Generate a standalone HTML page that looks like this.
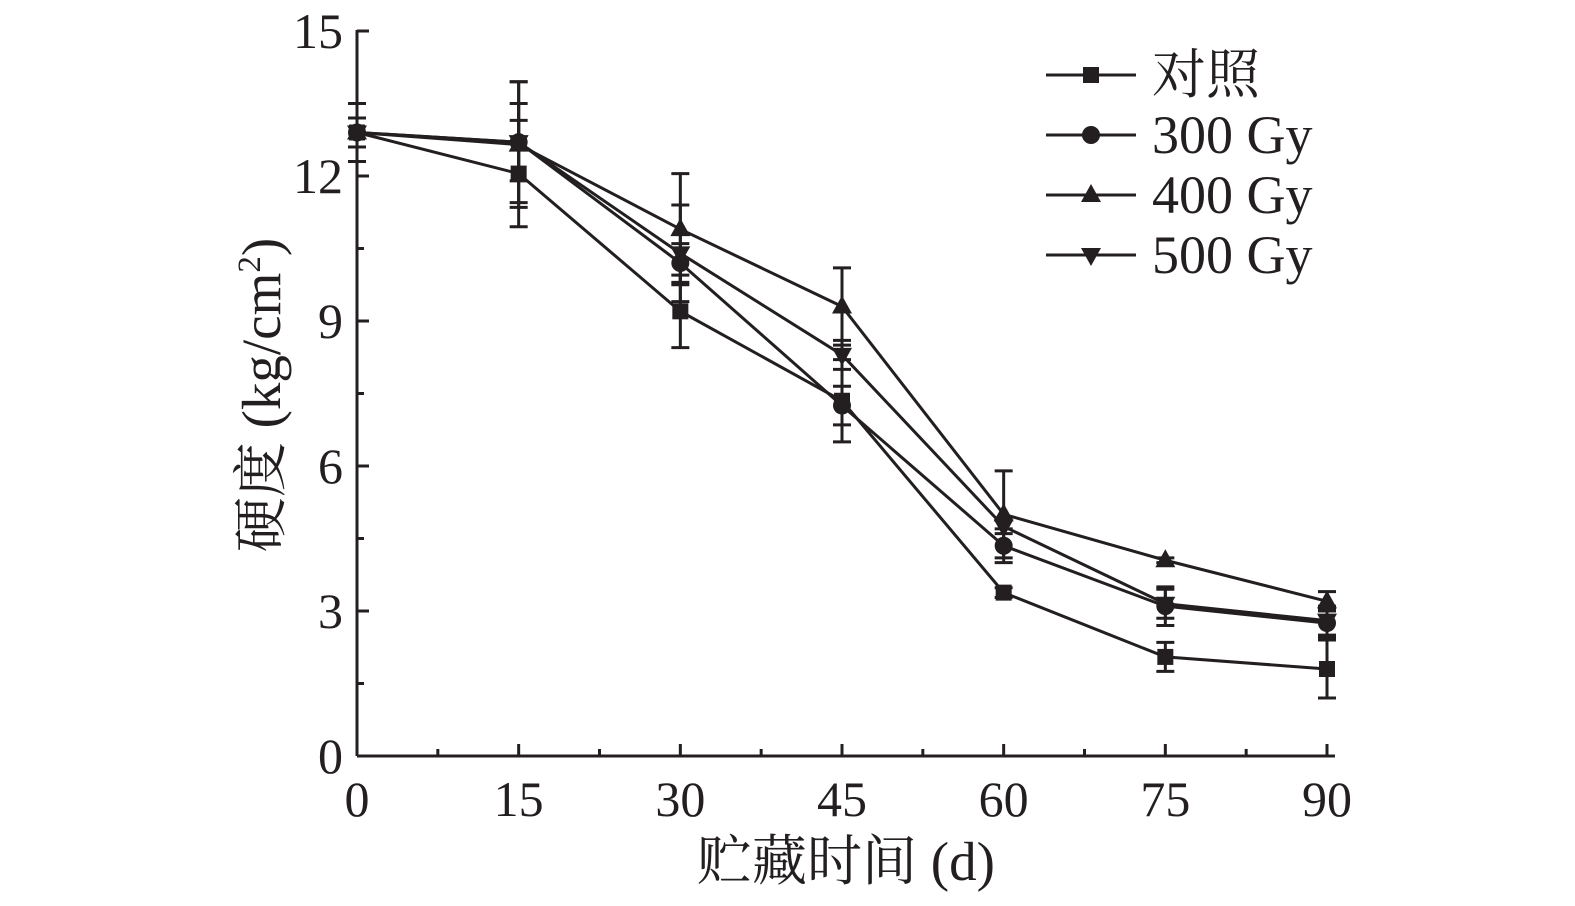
<!DOCTYPE html>
<html><head><meta charset="utf-8"><style>
body{margin:0;background:#fff}
svg text{font-family:"Liberation Serif","Noto Serif CJK SC",serif;fill:#231f20}
</style></head><body>
<svg id="chart" width="1575" height="901" xmlns="http://www.w3.org/2000/svg">
<g id="axes"></g>
<g id="series"></g>
<g id="legend"></g>
<text x="846" y="880" font-size="55" text-anchor="middle">贮藏时间 (d)</text>
<text transform="translate(280,395) rotate(-90)" font-size="55" text-anchor="middle">硬度 (kg/cm<tspan font-size="33" dy="-20">2</tspan><tspan dy="20">)</tspan></text>
</svg>
<script>
const days=[0,15,30,45,60,75,90];
const seriesNames=["对照","300 Gy","400 Gy","500 Gy"];
const ctrl=[12.9,12.05,9.2,7.35,3.38,2.05,1.8];
const gy300=[12.9,12.7,10.2,7.25,4.35,3.1,2.75];
const gy400=[12.9,12.65,10.9,9.3,5.0,4.05,3.2];
const gy500=[12.9,12.7,10.4,8.3,4.75,3.15,2.8];
const errCtrl=[0.3,1.1,0.75,0.85,0.1,0.3,0.6];
const err300=[0.3,1.25,0.4,0.4,0.35,0.4,0.3];
const err400=[0.6,1.3,1.15,0.8,0.9,0.05,0.2];
const err500=[0.3,0.8,1.0,0.3,0.15,0.3,0.3];
const xTicks=[0,15,30,45,60,75,90];
const yTicks=[0,3,6,9,12,15];
const NS="http://www.w3.org/2000/svg";
const X=v=>357+v*(1327-357)/90;
const Y=v=>756-v*(756-31)/15;
const C="#231f20";
function mk(p,t,a){const e=document.createElementNS(NS,t);for(const k in a)e.setAttribute(k,a[k]);p.appendChild(e);return e;}
const ax=document.getElementById('axes');
let e=mk(ax,'line',{x1:357,y1:Y(0),x2:1335,y2:Y(0),stroke:C,'stroke-width':3});

e=mk(ax,'line',{x1:357,y1:Y(0),x2:357,y2:Y(15)-1,stroke:C,'stroke-width':3});

for(let v=0;v<=90;v+=7.5){const maj=v%15===0;e=mk(ax,'line',{x1:X(v),y1:Y(0),x2:X(v),y2:Y(0)-(maj?12:7),stroke:C,'stroke-width':3});
}
for(let v=0;v<=15;v+=1.5){const maj=Math.abs(v%3)<0.01;e=mk(ax,'line',{x1:357,y1:Y(v),x2:357+(maj?12:7),y2:Y(v),stroke:C,'stroke-width':3});
}
xTicks.forEach(v=>{e=mk(ax,'text',{x:X(v),y:816,'font-size':50,'text-anchor':'middle'});e.textContent=v;
});
yTicks.forEach(v=>{e=mk(ax,'text',{x:343,y:Y(v)+17,'font-size':50,'text-anchor':'end'});e.textContent=v;
});
function marker(g,type,x,y){
 if(type==0)return mk(g,'rect',{x:x-8,y:y-8,width:16,height:16,fill:C});
 if(type==1)return mk(g,'circle',{cx:x,cy:y,r:9,fill:C});
 if(type==2)return mk(g,'polygon',{points:`${x},${y-11} ${x+10},${y+7} ${x-10},${y+7}`,fill:C});
 return mk(g,'polygon',{points:`${x},${y+11} ${x+10},${y-7} ${x-10},${y-7}`,fill:C});
}
const all=[ctrl,gy300,gy400,gy500],errs=[errCtrl,err300,err400,err500];
const sg=document.getElementById('series');
all.forEach((s,i)=>{
 const g=mk(sg,'g',{});
 s.forEach((v,j)=>{const er=errs[i][j];
  e=mk(g,'path',{d:`M${X(days[j])},${Y(v+er)}V${Y(v-er)}M${X(days[j])-9},${Y(v+er)}h18M${X(days[j])-9},${Y(v-er)}h18`,stroke:C,'stroke-width':3,fill:'none'});
  });
 e=mk(g,'polyline',{points:s.map((v,j)=>X(days[j])+','+Y(v)).join(' '),stroke:C,'stroke-width':3,fill:'none'});
 
 s.forEach((v,j)=>{e=marker(g,i,X(days[j]),Y(v));});
});
const lg=document.getElementById('legend');
seriesNames.forEach((n,i)=>{const y=75+i*60;
 const g=mk(lg,'g',{});
 mk(g,'line',{x1:1046,y1:y,x2:1136,y2:y,stroke:C,'stroke-width':3});
 marker(g,i,1091,y);
 const t=mk(g,'text',{x:1152,y:y+18,'font-size':54});t.textContent=n;
});
</script>
</body></html>
